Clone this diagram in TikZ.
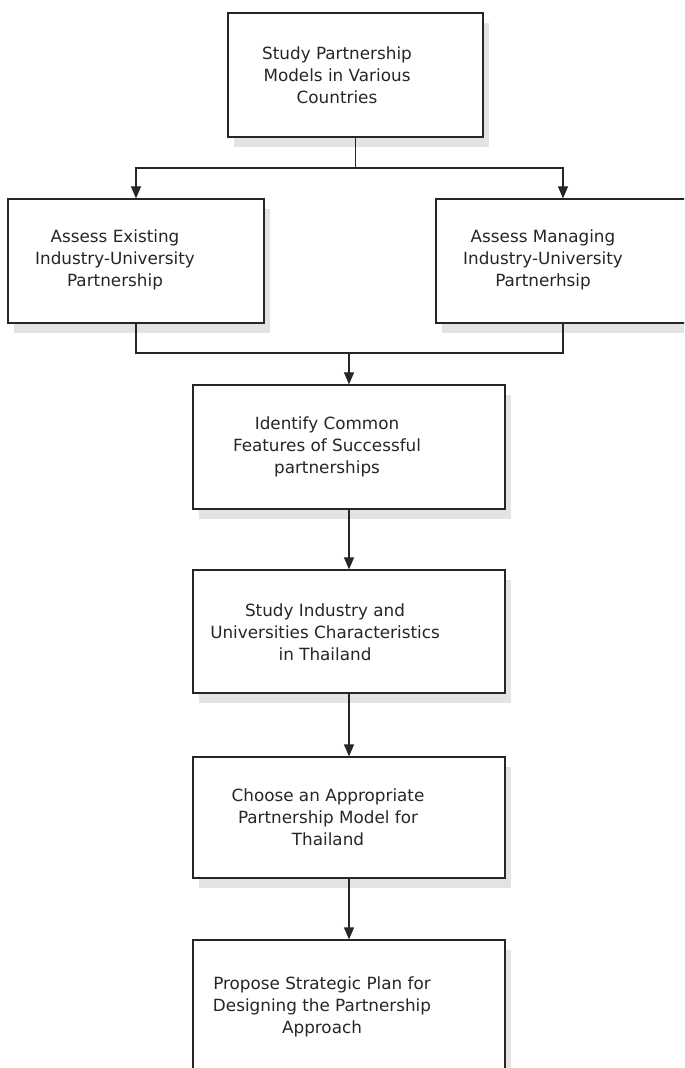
\documentclass[tikz,border=0pt]{standalone}
\usepackage{fontspec}
\setmainfont{DejaVu Sans}
\usepackage{tikz}
\usetikzlibrary{arrows.meta, shadows}

\begin{document}
\begin{tikzpicture}[x=0.5pt, y=-0.5pt,
  box/.style={draw=black!85, line width=0.6pt, fill=white, inner sep=0pt,
    drop shadow={shadow xshift=3pt, shadow yshift=-5pt, fill=gray!22, opacity=1}},
  boxtext/.style={align=center, text=black!85, inner sep=0pt,
    font=\fontsize{8.4}{11}\selectfont},
  line/.style={draw=black!85, line width=0.6pt},
  arr/.style={line, -{Triangle[width=5pt, length=6pt]}}]
\useasboundingbox (0,0) rectangle (684,1068);
\clip (0,0) rectangle (684,1068);
% Boxes
\node[box, minimum width=127.5pt, minimum height=62pt] (study) at (355.5,75) {};
\node[box, minimum width=128pt, minimum height=62pt] (existing) at (136,261) {};
\node[box, minimum width=127pt, minimum height=62pt] (managing) at (563,261) {};
\node[box, minimum width=156pt, minimum height=62pt] (features) at (349,447) {};
\node[box, minimum width=156pt, minimum height=61.5pt] (thai) at (349,631.5) {};
\node[box, minimum width=156pt, minimum height=60.5pt] (choose) at (349,817.5) {};
\node[box, minimum width=156pt, minimum height=70pt] (propose) at (349,1010) {};
% Box texts
\node[boxtext] (studyT) at (337,75) {Study Partnership\\Models in Various\\Countries};
\node[boxtext] (existingT) at (115,260) {Assess Existing\\Industry-University\\Partnership};
\node[boxtext] (managingT) at (543,260) {Assess Managing\\Industry-University\\Partnerhsip};
\node[boxtext] (featuresT) at (327,447) {Identify Common\\Features of Successful\\partnerships};
\node[boxtext] (thaiT) at (325,632) {Study Industry and\\Universities Characteristics\\in Thailand};
\node[boxtext] (chooseT) at (328,817) {Choose an Appropriate\\Partnership Model for\\Thailand};
\node[boxtext] (proposeT) at (322,1007) {Propose Strategic Plan for\\Designing the Partnership\\Approach};
% Connectors
\coordinate (fork) at (355.5,168);
\coordinate (join) at (349,353);
\draw[line] (study.south) -- (fork);
\draw[arr] (fork) -| (existing.north);
\draw[arr] (fork) -| (managing.north);
\draw[line] (existing.south) |- (join);
\draw[line] (managing.south) |- (join);
\draw[arr] (join) -- (features.north);
\draw[arr] (features.south) -- (thai.north);
\draw[arr] (thai.south) -- (choose.north);
\draw[arr] (choose.south) -- (propose.north);
\end{tikzpicture}
\end{document}
